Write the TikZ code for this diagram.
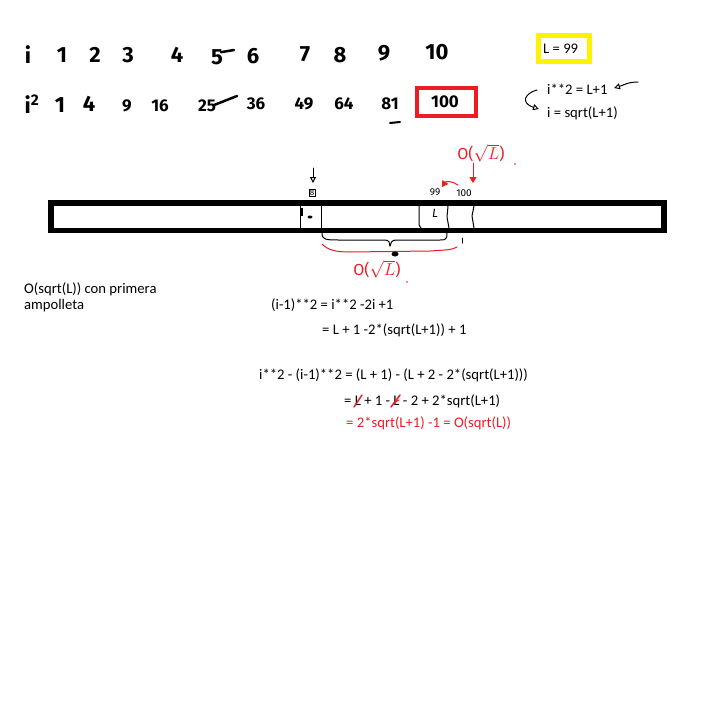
\documentclass[tikz,border=0pt]{standalone}
\usepackage{fontspec}
\setmainfont{Carlito}
\newfontfamily\hand{Fira Sans}
\usetikzlibrary{arrows.meta,shapes.geometric}
\definecolor{pred}{RGB}{237,28,36}
\definecolor{pyel}{RGB}{255,242,0}
\tikzset{
  typed/.style={font=\fontsize{14.67}{17}\selectfont, inner sep=0pt, anchor=west},
  hw/.style={font=\hand\bfseries\fontsize{22}{24}\selectfont, inner sep=0pt},
  hws/.style={font=\hand\bfseries\fontsize{17}{19}\selectfont, inner sep=0pt},
  tiny/.style={font=\hand\fontsize{10}{11}\selectfont, inner sep=0pt},
  pen/.style={line width=1pt, line cap=round, line join=round},
  rpen/.style={pen, draw=pred},
  tri/.style={-{Triangle[open,length=6pt,width=6pt]}},
  rtri/.style={-{Triangle[length=6pt,width=7pt]}}
}
\begin{document}
\begin{tikzpicture}[x=1pt,y=-1pt]
\useasboundingbox (0,0) rectangle (720,718);
\fill[white] (0,0) rectangle (720,718);
% row 1
\node[hw] (r1i) at (28,55) {i};
\node[hw] (r1a) at (62,55) {1};
\node[hw] (r1b) at (95,55) {2};
\node[hw] (r1c) at (128,55) {3};
\node[hw] (r1d) at (177,55) {4};
\node[hw] (r1e) at (217,57) {5};
\draw[pen, line width=2.5pt] ([xshift=4pt,yshift=-3pt]r1e.north) -- (234,50);
\node[hw] (r1f) at (253,56) {6};
\node[hw] (r1g) at (305,54) {7};
\node[hw] (r1h) at (340,55) {8};
\node[hw] (r1j) at (384,53) {9};
\node[hw] (r1k) at (437,52) {10};
% row 2
\node[hw] (r2i) at (32,104) {i\textsuperscript{2}};
\node[hw] (r2a) at (60,105) {1};
\node[hw] (r2b) at (89,104) {4};
\node[hws] (r2c) at (127,106) {9};
\node[hws] (r2d) at (160,106) {16};
\node[hws] (r2e) at (207,106) {25};
\draw[pen, line width=2.5pt] ([xshift=-2pt,yshift=1pt]r2e.east) -- (237,96);
\node[hws] (r2f) at (256,104) {36};
\node[hws] (r2g) at (304,104) {49};
\node[hws] (r2h) at (344,104) {64};
\node[hws] (r2j) at (390,104) {81};
\node[hws] (r2k) at (445,102) {100};
\draw[draw=pred, line width=4pt] (417,88) rectangle (476,116);
\coordinate (u1) at (390,123);
\coordinate (u2) at (400,122);
\draw[pen, line width=2pt] (u1) -- (u2);
% yellow L box
\draw[draw=pyel, line width=5pt] (538.5,35.5) rectangle (589,61.5);
\node[typed] (L99) at (543,49) {L = 99};
\node[typed] (eq1) at (547,89) {i**2 = L+1};
\node[typed] (eq2) at (547,113) {i = sqrt(L+1)};
\coordinate (a1s) at (638,82);
\coordinate (a1e) at (614,88);
\draw[pen, tri] (a1s) .. controls (628,82) and (624,85) .. (a1e);
\coordinate (a2s) at (537,90);
\coordinate (a2e) at (539,109);
\draw[pen, tri] (a2s) .. controls (525,93) and (520,103) .. (a2e);
% bar
\draw[line width=5.5pt] (51,203) rectangle (664,230.5);
\draw[pen] (300,206) -- (300,228);
\draw[line width=2.5pt] (302,208) -- (302,216);
\draw[pen] (321,206) -- (321,228);
\draw[pen] (419,206) -- (419,225) -- (421,228);
\draw[pen] (448,206) -- (447,217) -- (449,228);
\draw[pen] (474,206) -- (472,216) -- (474,228);
\node[fill, ellipse, minimum width=5pt, minimum height=3pt, inner sep=0pt] (m1) at (310,217) {};
\node[font=\hand\itshape\fontsize{12}{12}\selectfont, inner sep=0pt] (m2) at (435,213) {L};
% labels above bar
\node[draw, pen, inner sep=0.8pt, font=\hand\fontsize{8}{8}\selectfont] (l8) at (312,193) {8};
\coordinate (a3s) at (313,168);
\coordinate (a3e) at (313,183);
\draw[pen, tri] (a3s) -- (a3e);
\node[tiny] (l99) at (435,192) {99};
\node[tiny] (l100) at (464,193) {100};
\coordinate (ra1) at (458,185);
\coordinate (ra2) at (442,187);
\draw[rpen, rtri] (ra1) .. controls (452,181) and (446,181) .. (ra2);
\node[text=pred, font=\hand\fontsize{16}{16}\selectfont, inner sep=0pt] (o1) at (481,153) {O($\sqrt{L}$)};
\coordinate (ra0) at (473,163);
\coordinate (ra3) at (473,183);
\draw[rpen, rtri] (ra0) -- (ra3);
\fill[pred] (515,164) circle (0.8);
% brace
\coordinate (b1) at (322,233);
\coordinate (b2) at (447,233);
\coordinate (btip) at (390,246);
\draw[pen] (b1) .. controls (322,240) and (326,240) .. (340,240) -- (385,240) .. controls (389,240) and (390,243) .. (btip);
\draw[pen] (btip) .. controls (390,243) and (392,240) .. (396,240) -- (440,240) .. controls (446,240) and (447,239) .. (b2);
\draw[pen] (462,238) -- (462,243);
\coordinate (rb1) at (322,244);
\coordinate (rb2) at (457,247);
\draw[rpen] (rb1) .. controls (328,250) and (335,252) .. (350,252) -- (430,251) .. controls (445,250) and (452,250) .. (rb2);
\node[fill, ellipse, minimum width=7pt, minimum height=5pt, inner sep=0pt] (bb) at (395,254) {};
\node[text=pred, font=\hand\fontsize{16}{16}\selectfont, inner sep=0pt] (o2) at (377,269) {O($\sqrt{L}$)};
\fill[pred] (407,282) circle (0.8);
% text
\node[typed] (t1) at (24,289) {O(sqrt(L)) con primera};
\node[typed] (t2) at (24,306) {ampolleta};
\node[typed] (t3) at (271,305) {(i-1)**2 = i**2 -2i +1};
\node[typed] (t4) at (322,330) {= L + 1 -2*(sqrt(L+1)) + 1};
\node[typed] (t5) at (259,375) {i**2 - (i-1)**2 = (L + 1) - (L + 2 - 2*(sqrt(L+1)))};
\node[typed] (t6) at (344,401) {= L + 1 - L - 2 + 2*sqrt(L+1)};
\node[typed, text=pred] (t7) at (346,423) {= 2*sqrt(L+1) -1 = O(sqrt(L))};
% red strikes over the two L
\coordinate (s1) at (354,407);
\coordinate (s1e) at (362,395);
\draw[rpen, line width=1.5pt] (s1) -- (s1e);
\coordinate (s2) at (391,407);
\coordinate (s2e) at (400,395);
\draw[rpen, line width=1.5pt] (s2) -- (s2e);
\coordinate (s3) at (394,403);
\coordinate (s3e) at (399,400);
\draw[rpen] (s3) -- (s3e);
\end{tikzpicture}
\end{document}
